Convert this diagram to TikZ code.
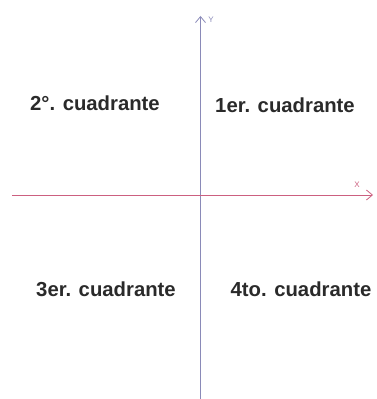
\documentclass[tikz,border=0pt]{standalone}
\usepackage{fontspec}
\setmainfont{Liberation Sans}
\usetikzlibrary{arrows.meta}
\definecolor{yaxis}{HTML}{8A8AB8}
\definecolor{xaxis}{HTML}{CC6080}
\definecolor{txt}{HTML}{2A2A2A}
\tikzset{
  quad/.style={font=\bfseries\fontsize{20.3}{23}\selectfont, text=txt, inner sep=0pt},
  axis/.style={line width=0.9pt, -{Straight Barb[length=6pt,width=10pt,line width=0.8pt]}},
  axlabel/.style={font=\fontsize{8}{9}\selectfont, inner sep=0pt}
}
\begin{document}
\begin{tikzpicture}[x=1pt,y=1pt]
\useasboundingbox (0,0) rectangle (376,399);
\coordinate (ybot) at (200.5,0);
\coordinate (ytop) at (200.5,383);
\coordinate (xl) at (12,204);
\coordinate (xr) at (373,204);
\draw[axis, yaxis] (ybot) -- (ytop);
\draw[axis, xaxis] (xl) -- (xr);
\node[axlabel, text=yaxis] (ylab) at (211,379) {Y};
\node[axlabel, text=xaxis] (xlab) at (357,214) {X};
\node[quad] (q2) at (95,296) {2°. cuadrante};
\node[quad] (q1) at (285,294) {1er. cuadrante};
\node[quad] (q3) at (106,110) {3er. cuadrante};
\node[quad] (q4) at (301,110) {4to. cuadrante};
\end{tikzpicture}
\end{document}
